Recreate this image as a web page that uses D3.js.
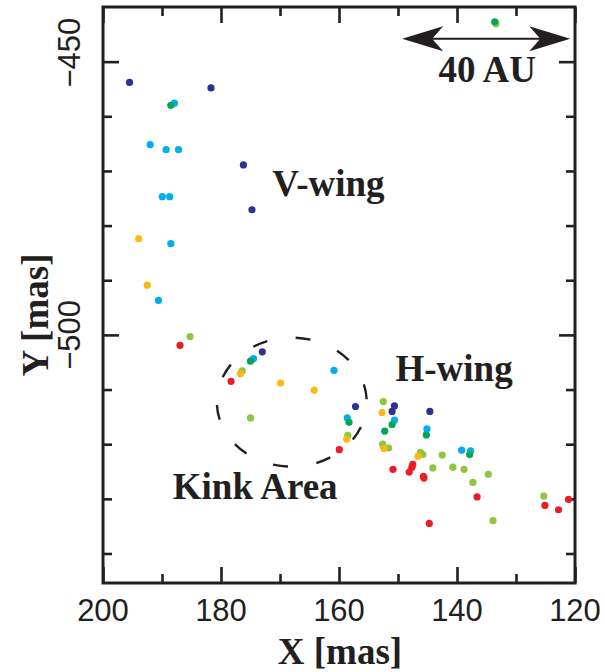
<!DOCTYPE html>
<html><head><meta charset="utf-8">
<script src="https://cdn.jsdelivr.net/npm/d3@7"></script>
<style>body{margin:0;background:#fff}</style>
</head><body><svg id="c" width="605" height="672"></svg>
<script>
// ---- data ----
const xMajorTicks=[200,180,160,140,120];
const xMinorTicks=[190,170,150,130];
const yMajorTicks=[-450,-500];
const yMinorTicks=[-460,-470,-480,-490,-510,-520,-530,-540];
const darkBlue=[[195.5,-453.8],[181.7,-454.8],[176.2,-468.9],[174.75,-477.1],[173.0,-503.1],[157.2,-513.1],[150.6,-513.0],[151.0,-514.0],[144.6,-514.0]];
const cyan=[[187.9,-457.6],[192.0,-465.2],[189.3,-466.1],[187.2,-466.1],[189.95,-474.7],[188.7,-474.7],[188.5,-483.3],[190.6,-493.7],[174.5,-504.35],[160.85,-506.5],[158.6,-515.2],[150.6,-515.6],[145.1,-517.2],[139.2,-521.1],[137.7,-521.2]];
const lightGreen=[[133.4,-443.05],[185.25,-500.3],[176.4,-506.6],[175.0,-515.2],[158.5,-518.4],[152.5,-512.2],[152.6,-520.0],[151.6,-520.7],[146.2,-521.5],[145.8,-521.9],[142.5,-522.0],[144.1,-524.35],[140.7,-524.2],[138.8,-524.6],[134.7,-525.5],[137.3,-527.0],[133.9,-534.0],[125.3,-529.5]];
const green=[[133.6,-442.7],[188.5,-458.0],[175.0,-504.8],[158.3,-516.0],[151.0,-516.4],[152.25,-517.6],[145.2,-518.3],[137.85,-521.9]];
const yellow=[[193.95,-482.4],[192.5,-490.9],[176.7,-507.1],[169.9,-508.8],[164.2,-510.1],[152.7,-514.2],[158.7,-519.1],[152.4,-520.8],[146.6,-522.2]];
const red=[[186.95,-501.9],[178.3,-508.5],[159.95,-521.0],[150.85,-524.6],[147.5,-523.7],[147.65,-524.2],[148.1,-525.1],[145.7,-525.9],[145.6,-526.2],[136.6,-529.65],[144.7,-534.5],[125.1,-531.2],[122.8,-532.0],[121.1,-530.1]];
const seriesNames=["darkBlue","cyan","lightGreen","green","yellow","red"];
const seriesData=[darkBlue,cyan,lightGreen,green,yellow,red];
const seriesColors=["#2e3192","#00aeef","#8dc63f","#00a651","#fdb913","#ed1c24"];
const kinkEllipse={cx:168.0,cy:-512.3,rx:12.7,ry:11.8};
const scaleBar={x1:149.3,x2:120.8,y:-445.8,label:"40 AU"};
const labels=[{t:"V-wing",x:161.8,y:-474.5},{t:"H-wing",x:140.5,y:-508.5},{t:"Kink Area",x:174.2,y:-530.1}];

// ---- layout ----
const W=605,H=672,L=103,R=575,T=7,B=583;
const ink="#231f20";
const x=d3.scaleLinear().domain([200,120]).range([L,R]);
const y=d3.scaleLinear().domain([-545.4,-440]).range([B,T]);
const svg=d3.select("#c");

function styleAxis(g){g.select(".domain").remove();g.selectAll(".tick line").attr("stroke",ink).attr("stroke-width",2.6);g.selectAll(".tick text").remove();}
// ticks, inward on all four sides
svg.append("g").attr("transform",`translate(0,${B})`).call(d3.axisBottom(x).tickValues(xMajorTicks).tickSize(-16)).call(styleAxis);
svg.append("g").attr("transform",`translate(0,${B})`).call(d3.axisBottom(x).tickValues(xMinorTicks).tickSize(-9)).call(styleAxis);
svg.append("g").attr("transform",`translate(0,${T})`).call(d3.axisTop(x).tickValues(xMajorTicks).tickSize(-16)).call(styleAxis);
svg.append("g").attr("transform",`translate(0,${T})`).call(d3.axisTop(x).tickValues(xMinorTicks).tickSize(-9)).call(styleAxis);
svg.append("g").attr("transform",`translate(${L},0)`).call(d3.axisLeft(y).tickValues(yMajorTicks).tickSize(-16)).call(styleAxis);
svg.append("g").attr("transform",`translate(${L},0)`).call(d3.axisLeft(y).tickValues(yMinorTicks).tickSize(-9)).call(styleAxis);
svg.append("g").attr("transform",`translate(${R},0)`).call(d3.axisRight(y).tickValues(yMajorTicks).tickSize(-16)).call(styleAxis);
svg.append("g").attr("transform",`translate(${R},0)`).call(d3.axisRight(y).tickValues(yMinorTicks).tickSize(-9)).call(styleAxis);

svg.append("rect").attr("x",L).attr("y",T).attr("width",R-L).attr("height",B-T)
  .attr("fill","none").attr("stroke",ink).attr("stroke-width",3);

// tick labels
svg.append("g").selectAll("text").data(xMajorTicks).join("text")
  .attr("x",d=>x(d)).attr("y",621).attr("text-anchor","middle")
  .attr("font-family","Liberation Sans, Arial, sans-serif").attr("font-size",31).attr("fill",ink)
  .text(d=>d);
svg.append("g").selectAll("text").data(yMajorTicks).join("text")
  .attr("transform",(d,i)=>`translate(80,${y(d)-(i===0?9:0)}) rotate(-90)`).attr("text-anchor","middle")
  .attr("font-family","Liberation Sans, Arial, sans-serif").attr("font-size",31).attr("fill",ink)
  .text(d=>"\u2212"+Math.abs(d));

// axis titles
const serif="Liberation Serif, Times New Roman, serif";
svg.append("text").attr("x",340).attr("y",664).attr("text-anchor","middle")
  .attr("font-family",serif).attr("font-weight","bold").attr("font-size",37).attr("fill",ink).text("X [mas]");
svg.append("text").attr("transform","translate(48,315) rotate(-90)").attr("text-anchor","middle")
  .attr("font-family",serif).attr("font-weight","bold").attr("font-size",37).attr("fill",ink).text("Y [mas]");

// kink ellipse (dashed)
const ex=x(kinkEllipse.cx),ey=y(kinkEllipse.cy);
const erx=Math.abs(x(kinkEllipse.cx+kinkEllipse.rx)-ex),ery=Math.abs(y(kinkEllipse.cy+kinkEllipse.ry)-ey);
const ell=svg.append("ellipse").attr("cx",ex).attr("cy",ey).attr("rx",erx).attr("ry",ery)
  .attr("fill","none").attr("stroke",ink).attr("stroke-width",2.4);
const per=ell.node().getTotalLength?ell.node().getTotalLength()/10:44;
ell.attr("stroke-dasharray",`15 ${per-15}`).attr("stroke-dashoffset",18);

// points
seriesData.forEach((arr,i)=>{
  svg.append("g").attr("class",seriesNames[i]).selectAll("circle").data(arr).join("circle")
    .attr("cx",d=>x(d[0])).attr("cy",d=>y(d[1])).attr("r",3.6).attr("fill",seriesColors[i]);
});

// labels
svg.append("g").selectAll("text").data(labels).join("text")
  .attr("x",d=>x(d.x)).attr("y",d=>y(d.y)).attr("text-anchor","middle")
  .attr("font-family",serif).attr("font-weight","bold").attr("font-size",37).attr("fill",ink).text(d=>d.t);

// scale bar with double arrow
const ax1=x(scaleBar.x1),ax2=x(scaleBar.x2),ay=y(scaleBar.y);
svg.append("line").attr("x1",ax1+20).attr("x2",ax2-20).attr("y1",ay).attr("y2",ay).attr("stroke",ink).attr("stroke-width",2);
function head(tx,dir){
  return `M${tx},${ay} L${tx+dir*41},${ay-12.5} L${tx+dir*30},${ay} L${tx+dir*41},${ay+12.5} Z`;
}
svg.append("path").attr("d",head(ax1,1)).attr("fill",ink);
svg.append("path").attr("d",head(ax2,-1)).attr("fill",ink);
svg.append("text").attr("x",(ax1+ax2)/2+1).attr("y",82).attr("text-anchor","middle")
  .attr("font-family",serif).attr("font-weight","bold").attr("font-size",37).attr("fill",ink).text(scaleBar.label);
</script></body></html>
